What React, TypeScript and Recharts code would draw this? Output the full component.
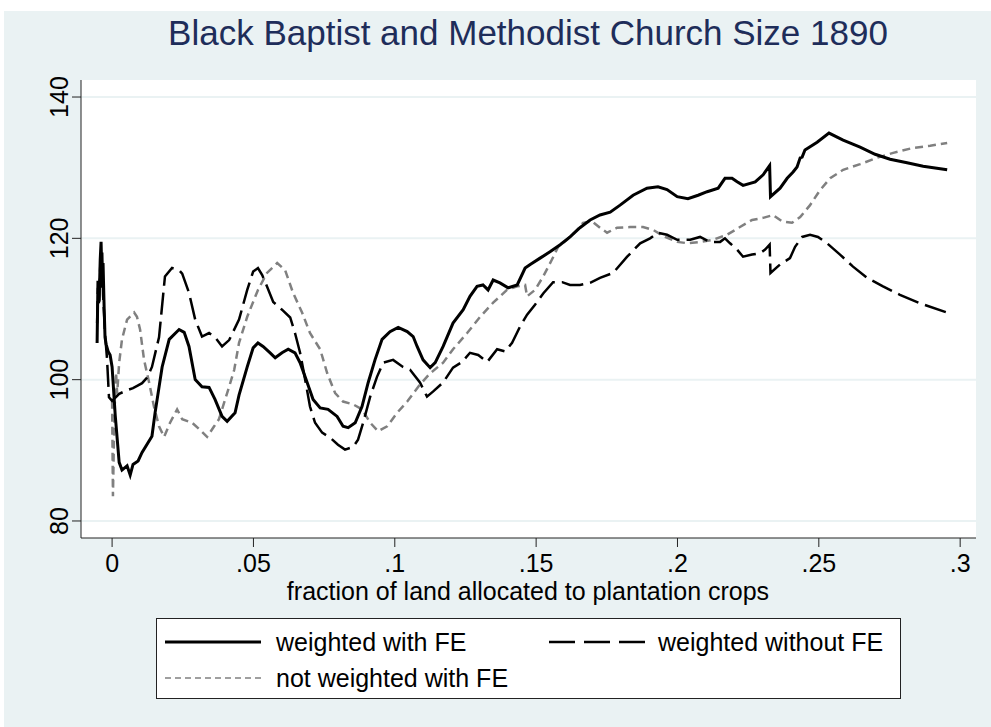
import { LineChart, Line, XAxis, YAxis, CartesianGrid } from 'recharts';

// weighted with FE (solid)
const withFeX = [
  -0.0053, -0.005, -0.0046, -0.0042, -0.0039, -0.0035, -0.0032, -0.0028, -0.0025, -0.0021,
  -0.0014, -0.0007, 0, 0.0011, 0.0025, 0.0035, 0.0053, 0.0064, 0.0074, 0.0092,
  0.0106, 0.0141, 0.0152, 0.0177, 0.0202, 0.0237, 0.0255, 0.0272, 0.0294, 0.0318,
  0.0343, 0.0364, 0.0389, 0.0407, 0.0435, 0.0449, 0.0478, 0.0499, 0.0516, 0.0534,
  0.0559, 0.0577, 0.0601, 0.0623, 0.0647, 0.0665, 0.069, 0.0711, 0.0736, 0.0764,
  0.0796, 0.0817, 0.0835, 0.086, 0.0884, 0.0906, 0.093, 0.0955, 0.0983, 0.1012,
  0.1044, 0.1065, 0.1079, 0.11, 0.1125, 0.1143, 0.1171, 0.1206, 0.1242, 0.1266,
  0.1291, 0.1312, 0.133, 0.1348, 0.1372, 0.1401, 0.1433, 0.1461, 0.1479, 0.1514,
  0.1549, 0.1585, 0.162, 0.1655, 0.1691, 0.1726, 0.1762, 0.1797, 0.1843, 0.1892,
  0.1931, 0.1963, 0.1999, 0.2037, 0.2073, 0.2105, 0.2144, 0.2168, 0.2193, 0.2211,
  0.2232, 0.2275, 0.2303, 0.2326, 0.2329, 0.2363, 0.2388, 0.2409, 0.2423, 0.2434,
  0.2441, 0.2451, 0.2494, 0.2536, 0.2586, 0.2646, 0.2699, 0.2752, 0.2812, 0.2869,
  0.2954,
];
const withFeY = [
  105.2, 114, 111, 117, 119.5, 113, 116.5, 110, 106, 105,
  104, 103.5, 101.8, 95, 88.3, 87.2, 87.8, 86.5, 88, 88.5,
  89.7, 92, 95.3, 101.8, 105.7, 107.1, 106.7, 104.7, 100, 99,
  98.9, 97.2, 94.8, 94.1, 95.3, 97.8, 101.8, 104.5, 105.2, 104.7,
  103.8, 103.1, 103.8, 104.3, 103.8, 102.4, 99.6, 97.2, 96, 95.8,
  94.8, 93.4, 93.2, 93.9, 96.2, 99.6, 102.8, 105.7, 106.8, 107.4,
  106.8, 106.1, 104.7, 102.8, 101.7, 102.4, 104.7, 108, 109.9, 111.8,
  113.2, 113.4, 112.7, 114.1, 113.7, 113, 113.4, 115.8, 116.3, 117.2,
  118.1, 119.1, 120.2, 121.5, 122.6, 123.3, 123.7, 124.7, 126.1, 127.1,
  127.3, 126.9, 125.9, 125.6, 126.1, 126.6, 127.1, 128.5, 128.5, 128,
  127.5, 128, 129, 130.3, 125.9, 127.1, 128.5, 129.4, 130.1, 131.4,
  131.5, 132.5, 133.6, 134.9, 133.9, 132.9, 131.9, 131.2, 130.7, 130.2,
  129.7,
];

// weighted without FE (long dash)
const withoutFeX = [
  -0.0053, -0.005, -0.0046, -0.0042, -0.0039, -0.0035, -0.0032, -0.0028, -0.0025, -0.0018,
  -0.0011, 0, 0.0025, 0.0053, 0.0074, 0.0092, 0.0106, 0.0124, 0.0141, 0.0166,
  0.0187, 0.0212, 0.0237, 0.0248, 0.0272, 0.0294, 0.0318, 0.0343, 0.0364, 0.0389,
  0.0414, 0.0449, 0.0478, 0.0499, 0.0516, 0.0531, 0.0548, 0.057, 0.0601, 0.063,
  0.0647, 0.0665, 0.0683, 0.07, 0.0718, 0.0743, 0.0771, 0.0799, 0.0824, 0.0853,
  0.087, 0.0888, 0.0913, 0.0937, 0.0959, 0.0994, 0.1029, 0.1054, 0.1089, 0.1114,
  0.1135, 0.1171, 0.1206, 0.1238, 0.1266, 0.1295, 0.1327, 0.1362, 0.139, 0.1415,
  0.1443, 0.1468, 0.1496, 0.1525, 0.156, 0.1592, 0.162, 0.1655, 0.1691, 0.1726,
  0.1772, 0.1822, 0.1868, 0.1903, 0.1931, 0.1963, 0.1999, 0.2045, 0.208, 0.2115,
  0.2151, 0.2168, 0.2186, 0.2211, 0.2232, 0.2264, 0.2292, 0.231, 0.2326, 0.2329,
  0.2363, 0.2398, 0.2416, 0.2441, 0.2469, 0.2497, 0.2529, 0.2575, 0.2621, 0.2671,
  0.2727, 0.2787, 0.2858, 0.2954,
];
const withoutFeY = [
  108, 113, 110.5, 116, 113, 118, 112, 109, 106.5, 103,
  97.5, 97, 98, 98.5, 98.8, 99.2, 99.5, 100.3, 101.8, 106,
  114.6, 115.8, 115.5, 115, 112.3, 108.5, 106.1, 106.6, 106, 104.7,
  105.6, 108.5, 112.7, 115.3, 115.8, 114.8, 113.2, 111, 109.9, 108.8,
  106.6, 103.8, 100, 96.2, 93.9, 92.5, 91.8, 90.8, 90.1, 90.5,
  91.5, 93.9, 97.6, 100.4, 102.4, 102.8, 101.8, 101.4, 99.6, 97.6,
  98.3, 99.6, 101.7, 102.5, 103.8, 103.5, 102.5, 104.3, 104, 105.2,
  107.5, 109.2, 110.6, 112.2, 113.8, 113.8, 113.4, 113.4, 113.7, 114.4,
  115.1, 117.4, 119.3, 120, 120.8, 120.5, 119.8, 119.8, 120.2, 119.5,
  119.5, 120, 119.3, 118.4, 117.4, 117.7, 117.9, 118.4, 119.1, 115.1,
  116.3, 117.2, 118.8, 120.2, 120.5, 120.2, 119.3, 117.7, 116, 114.4,
  113.2, 112, 110.8, 109.5,
];

// not weighted with FE (short dash, grey)
const noWeightX = [
  0, 0.0003, 0.0008, 0.0014, 0.0018, 0.0025, 0.0035, 0.0053, 0.0078, 0.0088,
  0.0099, 0.0113, 0.0131, 0.0148, 0.0166, 0.0184, 0.0205, 0.023, 0.0248, 0.0283,
  0.0311, 0.0336, 0.0361, 0.0378, 0.0396, 0.0414, 0.0432, 0.0449, 0.0478, 0.0516,
  0.0548, 0.0584, 0.0612, 0.064, 0.0672, 0.07, 0.0736, 0.0761, 0.0789, 0.0817,
  0.0853, 0.0884, 0.0913, 0.0941, 0.0973, 0.1008, 0.1044, 0.1089, 0.1125, 0.1171,
  0.1206, 0.1256, 0.1302, 0.1348, 0.1397, 0.1433, 0.1461, 0.1468, 0.1496, 0.1525,
  0.1556, 0.1578, 0.1609, 0.1645, 0.1666, 0.1698, 0.1726, 0.1751, 0.1786, 0.1832,
  0.1878, 0.1914, 0.1956, 0.1999, 0.2037, 0.208, 0.2126, 0.2175, 0.2221, 0.2264,
  0.2303, 0.2338, 0.237, 0.2405, 0.2434, 0.2469, 0.2504, 0.254, 0.2586, 0.2646,
  0.2706, 0.2763, 0.2833, 0.2894, 0.2954,
];
const noWeightY = [
  97, 83.5, 95, 101, 98, 102.4, 105.7, 108.5, 109.5, 108.9,
  107.1, 102.8, 99.6, 96.2, 93.4, 91.9, 93.9, 95.8, 94.4, 93.9,
  92.9, 91.9, 93.4, 94.4, 96.7, 99, 101.4, 105.2, 108.9, 112.7,
  115.1, 116.5, 115.5, 112.3, 109.5, 106.6, 104.3, 100.9, 98.1, 96.9,
  96.5, 95.8, 93.9, 92.7, 93.4, 95.3, 96.9, 99.3, 100.9, 102.4,
  104.3, 106.6, 108.9, 110.9, 112.7, 113.2, 113.4, 111.8, 112.7, 114.6,
  117, 118.8, 119.8, 121.2, 122.2, 122.4, 121.5, 120.8, 121.5, 121.6,
  121.6, 121.2, 120.2, 119.5, 119.3, 119.5, 119.8, 120.5, 121.6, 122.6,
  122.9, 123.3, 122.4, 122.2, 123, 124.7, 126.8, 128.5, 129.7, 130.5,
  131.4, 132.1, 132.8, 133.1, 133.5,
];

const xTicks = [0, 0.05, 0.1, 0.15, 0.2, 0.25, 0.3];
const yTicks = [80, 100, 120, 140];

const FONT = '"Liberation Sans", Arial, Helvetica, sans-serif';
const BG = '#EAF2F3';

const toPoints = (xs: number[], ys: number[]) => xs.map((x, i) => ({ x, y: ys[i] }));
const fmtX = (v: number) => (v === 0 ? '0' : String(v).replace(/^0/, ''));

function XTick(props: any) {
  const { x, y, payload } = props;
  return (
    <text x={x} y={y + 25} textAnchor="middle" fontSize={25} fontFamily={FONT} fill="#000">
      {fmtX(payload.value)}
    </text>
  );
}

function YTick(props: any) {
  const { x, y, payload } = props;
  const bx = x - 4;
  return (
    <text
      x={bx}
      y={y}
      textAnchor="middle"
      fontSize={25}
      fontFamily={FONT}
      fill="#000"
      transform={`rotate(-90, ${bx}, ${y})`}
    >
      {payload.value}
    </text>
  );
}

function ChartLegend() {
  const label = { fontSize: 25, fontFamily: FONT, fill: '#000' };
  return (
    <div
      style={{
        position: 'absolute',
        left: 156,
        top: 618,
        width: 745,
        height: 81,
        boxSizing: 'border-box',
        border: '1px solid #222',
        background: '#fff',
      }}
    >
      <svg width={743} height={79} style={{ display: 'block' }}>
        <line x1={8} x2={104} y1={23} y2={23} stroke="#000" strokeWidth={3} />
        <text x={119} y={32} {...label}>weighted with FE</text>
        <line x1={392} x2={489} y1={23} y2={23} stroke="#000" strokeWidth={2.5} strokeDasharray="26 9" />
        <text x={501} y={32} {...label}>weighted without FE</text>
        <line x1={8} x2={104} y1={59} y2={59} stroke="#808080" strokeWidth={1.5} strokeDasharray="6 4" />
        <text x={119} y={68} {...label}>not weighted with FE</text>
      </svg>
    </div>
  );
}

export default function App() {
  return (
    <div style={{ position: 'absolute', left: 0, top: 0, width: 991, height: 727, background: '#fff' }}>
      <div style={{ position: 'absolute', left: 4, top: 11, width: 987, height: 716, background: BG }} />
      <svg
        width={991}
        height={80}
        style={{ position: 'absolute', left: 0, top: 0 }}
      >
        <text x={528} y={45} textAnchor="middle" fontSize={35} fontFamily={FONT} fill="#1E2D5A">
          Black Baptist and Methodist Church Size 1890
        </text>
      </svg>
      <div style={{ position: 'absolute', left: 0, top: 0 }}>
        <LineChart width={991} height={727} margin={{ top: 80, right: 15, bottom: 119, left: 0 }}>
          <CartesianGrid fill="#fff" vertical={false} stroke={BG} strokeWidth={2} horizontalValues={yTicks} />
          <XAxis
            type="number"
            dataKey="x"
            domain={[-0.011, 0.3056]}
            allowDataOverflow
            ticks={xTicks}
            interval={0}
            height={70}
            tickSize={9}
            tickMargin={0}
            tick={<XTick />}
            axisLine={{ stroke: '#222', strokeWidth: 1 }}
            tickLine={{ stroke: '#222', strokeWidth: 1 }}
          />
          <YAxis
            type="number"
            domain={[77.59, 142.41]}
            allowDataOverflow
            ticks={yTicks}
            interval={0}
            width={81}
            tickSize={9}
            tickMargin={0}
            tick={<YTick />}
            axisLine={{ stroke: '#222', strokeWidth: 1 }}
            tickLine={{ stroke: '#222', strokeWidth: 1 }}
          />
          <Line
            data={toPoints(noWeightX, noWeightY)}
            dataKey="y"
            type="linear"
            stroke="#808080"
            strokeWidth={2.5}
            strokeDasharray="8 5"
            dot={false}
            activeDot={false}
            isAnimationActive={false}
          />
          <Line
            data={toPoints(withoutFeX, withoutFeY)}
            dataKey="y"
            type="linear"
            stroke="#000"
            strokeWidth={2.5}
            strokeDasharray="22 7"
            dot={false}
            activeDot={false}
            isAnimationActive={false}
          />
          <Line
            data={toPoints(withFeX, withFeY)}
            dataKey="y"
            type="linear"
            stroke="#000"
            strokeWidth={3}
            dot={false}
            activeDot={false}
            isAnimationActive={false}
          />
        </LineChart>
      </div>
      <svg width={991} height={40} style={{ position: 'absolute', left: 0, top: 570 }}>
        <text x={528} y={30} textAnchor="middle" fontSize={25} fontFamily={FONT} fill="#000">
          fraction of land allocated to plantation crops
        </text>
      </svg>
      <ChartLegend />
    </div>
  );
}
